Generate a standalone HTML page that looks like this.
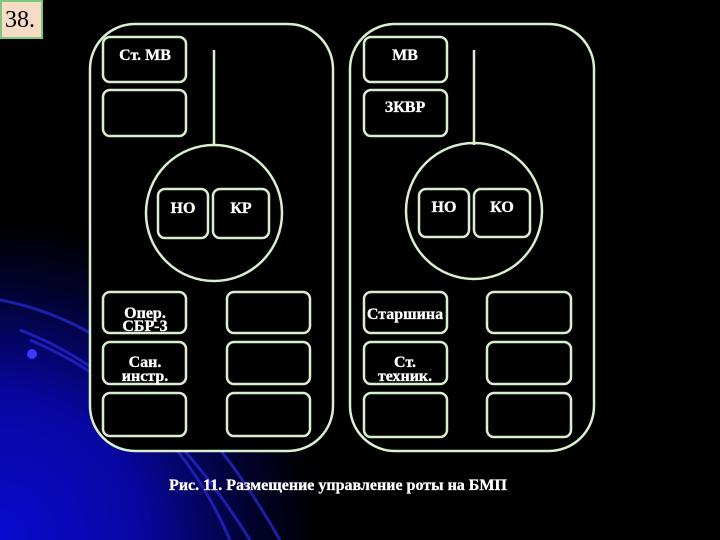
<!DOCTYPE html>
<html><head><meta charset="utf-8"><style>
html,body{margin:0;padding:0;background:#000;}
svg{display:block;}
text{font-family:"Liberation Serif","Noto Serif CJK SC",serif;font-weight:bold;fill:#fff;}
</style></head><body>
<svg width="720" height="540" viewBox="0 0 720 540" xmlns="http://www.w3.org/2000/svg">
<defs>
<radialGradient id="bg" cx="0" cy="540" r="320" gradientUnits="userSpaceOnUse">
<stop offset="0" stop-color="#0a0ad0"/>
<stop offset="0.45" stop-color="#0707a0"/>
<stop offset="0.8" stop-color="#02022a"/>
<stop offset="1" stop-color="#000"/>
</radialGradient>
</defs>
<rect width="720" height="540" fill="#000"/>
<rect width="720" height="540" fill="url(#bg)"/>
<g fill="none" stroke="#2a2ad8" stroke-width="3" opacity="0.7">
<path d="M20 330 Q150 380 250 540"/>
<path d="M30 340 Q170 400 230 540"/>
<path d="M0 300 Q160 330 280 540"/>
</g>
<circle cx="32" cy="354" r="5" fill="#3a3aff"/>
<rect x="1" y="1" width="41" height="37" fill="#f6dcc4" stroke="#7ec87e" stroke-width="2"/>
<text x="5" y="27" style="font-weight:normal;font-size:24px;fill:#000">38.</text>
<g fill="none" stroke="#d8f0d0" stroke-width="2.5">
<rect x="90" y="24" width="243" height="427" rx="45" fill="#000"/>
<rect x="350" y="24" width="244" height="427" rx="45" fill="#000"/>
<rect x="103" y="37" width="83" height="45" rx="7"/>
<rect x="103" y="90" width="83" height="46" rx="7"/>
<line x1="214" y1="50" x2="214" y2="145"/>
<circle cx="214" cy="213" r="68"/>
<rect x="158" y="189" width="50" height="49" rx="7"/>
<rect x="213" y="189" width="56" height="49" rx="7"/>
<rect x="103" y="292" width="83" height="41" rx="7"/>
<rect x="227" y="292" width="83" height="41" rx="7"/>
<rect x="103" y="342" width="83" height="42" rx="7"/>
<rect x="227" y="342" width="83" height="42" rx="7"/>
<rect x="103" y="393" width="83" height="43" rx="7"/>
<rect x="227" y="393" width="83" height="43" rx="7"/>
<rect x="364" y="37" width="83" height="45" rx="7"/>
<rect x="364" y="90" width="83" height="46" rx="7"/>
<line x1="474" y1="50" x2="474" y2="145"/>
<circle cx="474" cy="211" r="68"/>
<rect x="419" y="189" width="50" height="48" rx="7"/>
<rect x="474" y="189" width="56" height="48" rx="7"/>
<rect x="364" y="292" width="83" height="41" rx="7"/>
<rect x="487" y="292" width="84" height="41" rx="7"/>
<rect x="364" y="342" width="83" height="42" rx="7"/>
<rect x="487" y="342" width="84" height="42" rx="7"/>
<rect x="364" y="393" width="83" height="44" rx="7"/>
<rect x="487" y="393" width="84" height="44" rx="7"/>
</g>
<g font-size="16" text-anchor="middle" stroke="#fff" stroke-width="0.3">
<text x="145" y="60">Ст. МВ</text>
<text x="183" y="213">НО</text>
<text x="241" y="213">КР</text>
<text x="145" y="318">Опер.</text>
<text x="145" y="331">СБР-3</text>
<text x="145" y="367">Сан.</text>
<text x="145" y="381">инстр.</text>
<text x="405" y="60">МВ</text>
<text x="405" y="112">ЗКВР</text>
<text x="444" y="212">НО</text>
<text x="502" y="212">КО</text>
<text x="405" y="319">Старшина</text>
<text x="405" y="367">Ст.</text>
<text x="405" y="381">техник.</text>
</g>
<text x="338" y="490" font-size="16" text-anchor="middle" stroke="#fff" stroke-width="0.3">Рис. 11. Размещение управление роты на БМП</text>
</svg>
</body></html>
